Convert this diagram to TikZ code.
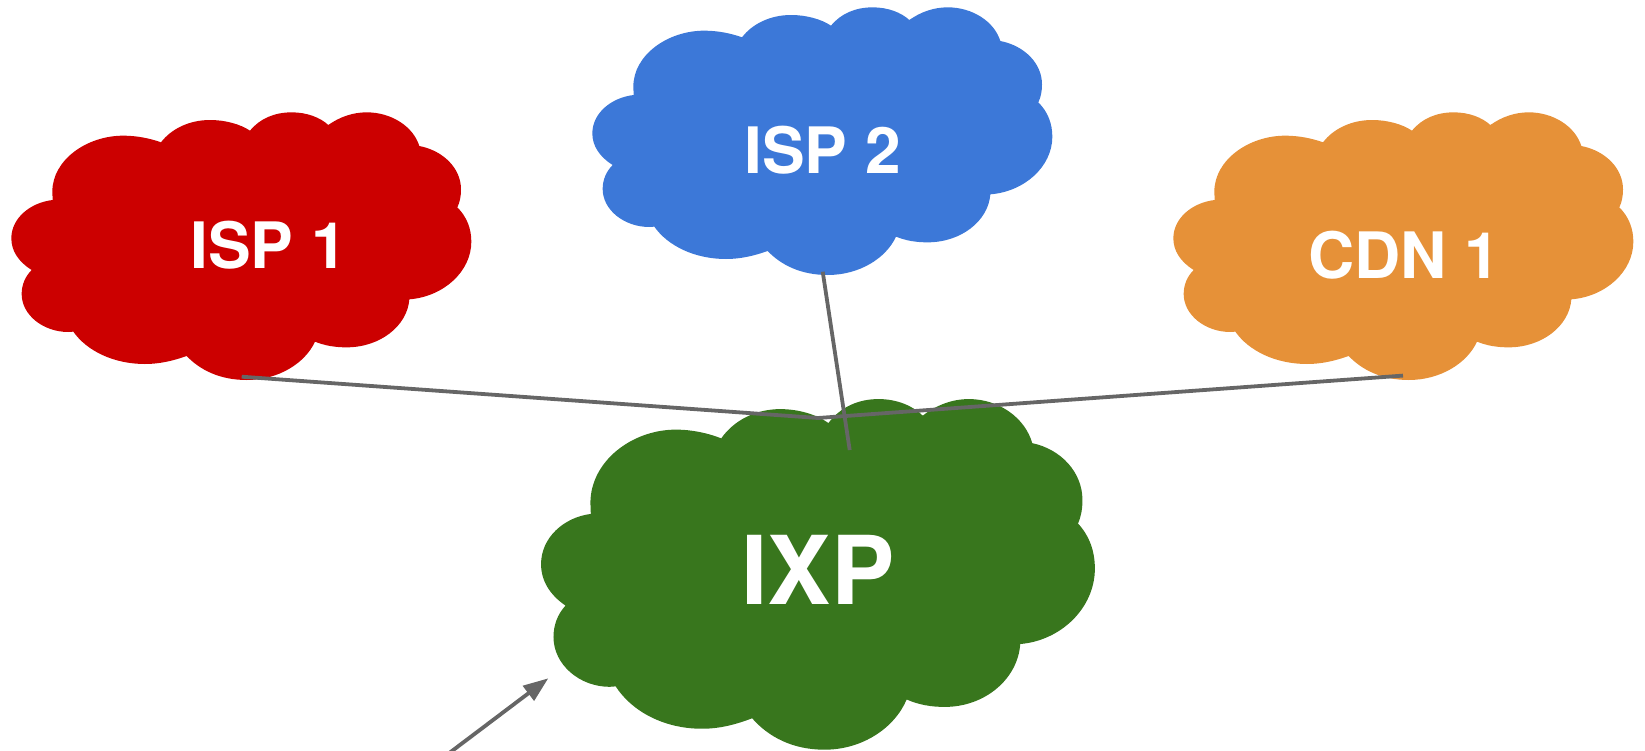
\documentclass[tikz,border=0pt]{standalone}
\usepackage{fontspec}
\setmainfont{TeX Gyre Heros}
\usetikzlibrary{arrows.meta}
\definecolor{ispred}{HTML}{CC0000}
\definecolor{ispblue}{HTML}{3C78D8}
\definecolor{cdnorange}{HTML}{E69138}
\definecolor{ixpgreen}{HTML}{38761D}
\definecolor{linkgray}{HTML}{666666}
\tikzset{
  pics/cloudshape/.style={code={
    \fill[#1,x=1pt/3,y=-1pt/3]
      (158,330) -- (157,305)
      .. controls (157,210) and (260,137) .. (370,137)
      .. controls (410,137) and (450,145) .. (483,157)
      .. controls (515,115) and (570,90) .. (630,90)
      .. controls (675,90) and (720,102) .. (750,122)
      .. controls (780,85) and (825,67) .. (875,67)
      .. controls (920,67) and (960,82) .. (985,105)
      .. controls (1020,80) and (1060,67) .. (1100,67)
      .. controls (1175,67) and (1240,110) .. (1258,168)
      .. controls (1330,182) and (1383,235) .. (1383,298)
      .. controls (1383,318) and (1380,335) .. (1372,352)
      .. controls (1400,380) and (1414,415) .. (1414,455)
      .. controls (1414,545) and (1330,620) .. (1228,628)
      .. controls (1222,708) and (1140,772) .. (1040,772)
      .. controls (1005,772) and (975,767) .. (945,755)
      .. controls (915,820) and (835,870) .. (740,870)
      .. controls (660,870) and (600,840) .. (560,798)
      .. controls (520,812) and (480,822) .. (435,822)
      .. controls (340,822) and (260,782) .. (220,725)
      -- (205,726)
      .. controls (130,726) and (65,675) .. (65,612)
      .. controls (65,585) and (75,560) .. (95,540)
      .. controls (55,515) and (34,482) .. (34,445)
      .. controls (34,385) and (90,338) .. (158,330)
      -- cycle;
  }},
  cloudlabel/.style={text=white,font=\bfseries\fontsize{64}{64}\selectfont,inner sep=0pt},
  biglabel/.style={text=white,font=\bfseries\fontsize{95}{95}\selectfont,inner sep=0pt},
  link/.style={draw=linkgray,line width=3.8pt},
  arrowlink/.style={link,-{Triangle[length=25pt,width=18pt]}}
}
\begin{document}
\begin{tikzpicture}[x=1pt,y=-1pt]
\useasboundingbox (0,0) rectangle (1645,750);
\pic at (0,90) {cloudshape=ispred};
\pic at (581,-15) {cloudshape=ispblue};
\pic at (1162,90) {cloudshape=cdnorange};
\pic[xscale=1.204,yscale=1.31] at (527.4,369.8) {cloudshape=ixpgreen};
\node[cloudlabel] (isp1) at (268.5,245) {ISP 1};
\node[cloudlabel] (isp2) at (822.5,150) {ISP 2};
\node[cloudlabel] (cdn1) at (1404,255.5) {CDN 1};
\node[biglabel] (ixp) at (818,570) {IXP};
\coordinate (isp1port) at (241.7,376.7);
\coordinate (isp2port) at (822.7,271.7);
\coordinate (cdn1port) at (1403,375.6);
\coordinate (ixphub) at (818,418);
\coordinate (ixpdrop) at (849.7,450);
\coordinate (feedtail) at (440,760);
\coordinate (feedtip) at (548.3,678.3);
\draw[link] (isp1port) -- (ixphub);
\draw[link] (cdn1port) -- (ixphub);
\draw[link] (isp2port) -- (ixpdrop);
\draw[arrowlink] (feedtail) -- (feedtip);
\end{tikzpicture}
\end{document}
